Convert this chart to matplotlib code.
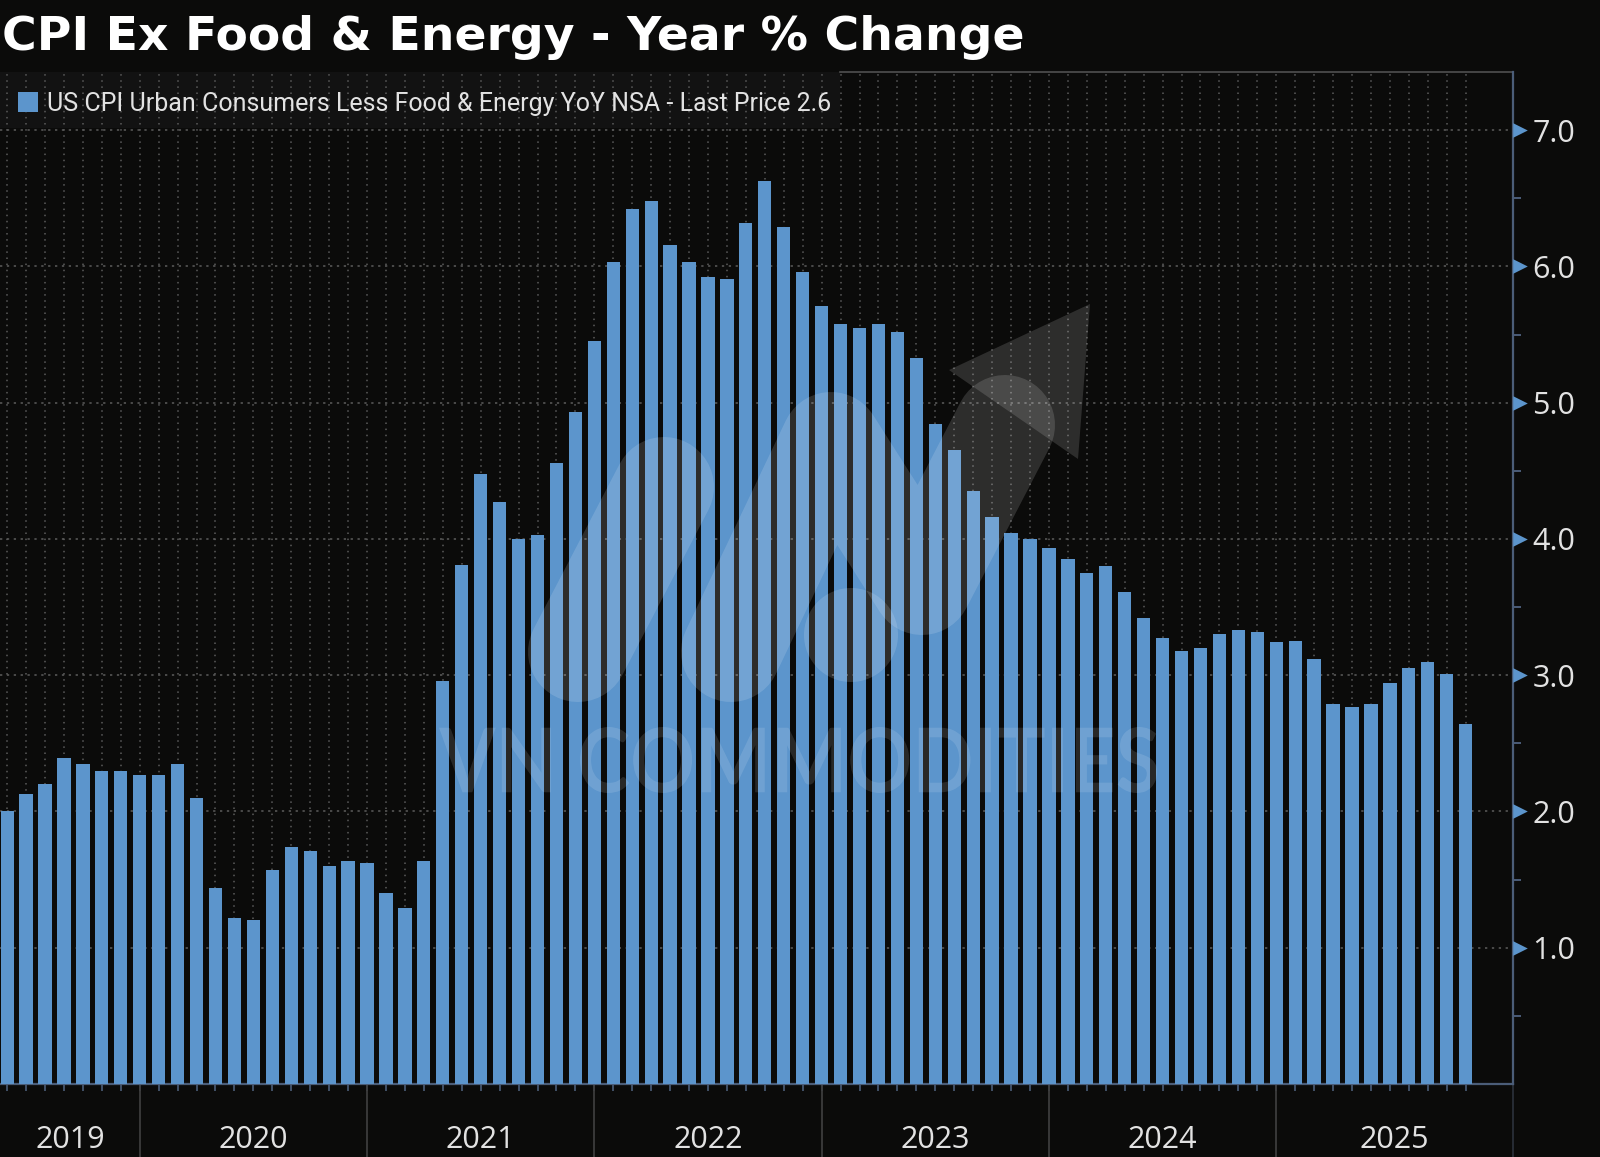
import numpy as np
import pandas as pd
import matplotlib
matplotlib.use("Agg")
import matplotlib.pyplot as plt
from matplotlib.lines import Line2D
from matplotlib.patches import Polygon, Circle, PathPatch, Rectangle
from matplotlib.textpath import TextPath
from matplotlib.font_manager import FontProperties
from matplotlib.transforms import Affine2D, IdentityTransform, blended_transform_factory

# --- Data ---
title = "CPI Ex Food & Energy - Year % Change"
series_name = "US CPI Urban Consumers Less Food & Energy YoY NSA - Last Price 2.6"
watermark = "VN COMMODITIES"

months = pd.date_range("2019-05-31", periods=78, freq="ME")
values = [
    2.00, 2.13, 2.20, 2.39, 2.35, 2.30, 2.30, 2.27,              # 2019 May-Dec
    2.27, 2.35, 2.10, 1.44, 1.22, 1.20, 1.57, 1.74, 1.71, 1.60, 1.64, 1.62,  # 2020
    1.40, 1.29, 1.64, 2.96, 3.81, 4.48, 4.27, 4.00, 4.03, 4.56, 4.93, 5.45,  # 2021
    6.03, 6.42, 6.48, 6.16, 6.03, 5.92, 5.91, 6.32, 6.63, 6.29, 5.96, 5.71,  # 2022
    5.58, 5.55, 5.58, 5.52, 5.33, 4.84, 4.65, 4.35, 4.16, 4.04, 4.00, 3.93,  # 2023
    3.85, 3.75, 3.80, 3.61, 3.42, 3.27, 3.18, 3.20, 3.30, 3.33, 3.32, 3.24,  # 2024
    3.25, 3.12, 2.79, 2.77, 2.79, 2.94, 3.05, 3.10, 3.01, 2.64,              # 2025
]
y_ticks = [1.0, 2.0, 3.0, 4.0, 5.0, 6.0, 7.0]
y_minor = [0.5, 1.5, 2.5, 3.5, 4.5, 5.5, 6.5]

BG = "#0b0b0a"
BAR = "#5c95cc"
AXIS = "#4b5d78"
GRID = "#5c5c5c"
TEXT = "#e2e2e2"

W, H = 1600, 1157
AX_L, AX_R, AX_T, AX_B = 0, 1513, 71.5, 1084   # axes box in image pixels

fig = plt.figure(figsize=(W / 100, H / 100), dpi=100, facecolor=BG)
ax = fig.add_axes([AX_L / W, (H - AX_B) / H, (AX_R - AX_L) / W, (AX_B - AX_T) / H])
ax.set_facecolor(BG)

x = np.arange(len(values))
ax.bar(x, values, width=0.7, color=BAR, zorder=3)
ax.set_xlim(-0.377, 79.5)
ax.set_ylim(0, 7.43)

# dotted grid
for xi in x:
    ax.axvline(xi, color=GRID, lw=1.1, ls=(0, (1, 3)), zorder=1)
for yv in y_ticks:
    ax.axhline(yv, color=GRID, lw=1.1, ls=(0, (1.5, 3)), zorder=1)

# spines
for s in ["left", "top"]:
    ax.spines[s].set_visible(False)
for s in ["right", "bottom"]:
    ax.spines[s].set_color(AXIS)
    ax.spines[s].set_linewidth(1.6)
ax.plot([840 / AX_R, 1], [1, 1], transform=ax.transAxes, color="#505050",
        lw=1.2, clip_on=False)

# right y axis
ax.yaxis.tick_right()
ax.set_yticks(y_ticks)
ax.set_yticklabels([f"{v:.1f}" for v in y_ticks], fontfamily="Open Sans")
ax.set_yticks(y_minor, minor=True)
ax.tick_params(axis="y", which="major", length=0, pad=14, labelsize=22,
               labelcolor=TEXT)
ax.tick_params(axis="y", which="minor", length=6, width=1.4, color=AXIS,
               direction="out")
ytr = blended_transform_factory(ax.transAxes, ax.transData)
ax.scatter([1 + 7 / AX_R] * len(y_ticks), y_ticks, transform=ytr, marker=">",
           s=110, color=BAR, clip_on=False, zorder=5, linewidths=0)

# bottom axis: monthly ticks, year separators, year labels
ax.set_xticks(x)
ax.tick_params(axis="x", length=5, width=1.2, color=AXIS, labelbottom=False)
xtr = blended_transform_factory(ax.transData, ax.transAxes)
dec_idx = [i for i, m in enumerate(months) if m.month == 12]
fig_bottom = -(H - AX_B) / (AX_B - AX_T)
for i in dec_idx:
    ax.plot([i, i], [0, fig_bottom], transform=xtr, color="#3c3c3c", lw=1.3,
            clip_on=False)
ax.plot([1, 1], [0, fig_bottom], transform=ax.transAxes, color="#2a2f38",
        lw=1.3, clip_on=False)

lo, hi = ax.get_xlim()
bounds = [lo] + dec_idx + [hi]
years = sorted(set(months.year))
label_y = -(1140 - AX_B) / (AX_B - AX_T)
for yr, a, b in zip(years, bounds[:-1], bounds[1:]):
    ax.text((a + b) / 2, label_y, str(yr), transform=xtr, ha="center",
            va="center", fontsize=22, color=TEXT, fontfamily="Open Sans")

# legend box
def axc(px, py):
    return px / AX_R, (AX_B - py) / (AX_B - AX_T)

bx, by = axc(0, 128)
ax.add_patch(Rectangle((bx, by), 840 / AX_R, (128 - AX_T) / (AX_B - AX_T),
                       transform=ax.transAxes, facecolor="#121212",
                       edgecolor="none", zorder=0.5))
sx, sy = axc(18, 112)
ax.add_patch(Rectangle((sx, sy), 20 / AX_R, 20 / (AX_B - AX_T),
                       transform=ax.transAxes, facecolor=BAR, edgecolor="none",
                       zorder=6, clip_on=False))
tx, ty = axc(47, 111)
ax.text(tx, ty, series_name, transform=ax.transAxes, fontsize=18,
        color=TEXT, va="baseline", ha="left", fontfamily="Roboto", zorder=6)

# title
fig.text(2 / W, 1 - 50 / H, title, fontsize=34, fontweight="bold",
         color="white", fontfamily="DejaVu Sans", va="baseline", ha="left")

# watermark (logo + text), image pixel coords -> display
def disp(pts):
    return [p[0] for p in pts], [H - p[1] for p in pts]

wm = dict(color="white", alpha=0.14)
xs, ys = disp([(578, 652), (664, 487)])
fig.add_artist(Line2D(xs, ys, transform=IdentityTransform(), lw=72,
                      solid_capstyle="round", **wm))
xs, ys = disp([(731, 652), (831, 442), (922, 585), (1005, 425)])
fig.add_artist(Line2D(xs, ys, transform=IdentityTransform(), lw=72,
                      solid_capstyle="round", solid_joinstyle="round", **wm))
fig.add_artist(Circle((851, H - 635), 47, transform=IdentityTransform(),
                      edgecolor="none", facecolor="white", alpha=0.14))
hx, hy = disp([(1090, 304), (949, 370), (1078, 459)])
fig.add_artist(Polygon(list(zip(hx, hy)), closed=True,
                       transform=IdentityTransform(), edgecolor="none",
                       facecolor="white", alpha=0.14))

tp = TextPath((0, 0), watermark, size=1,
              prop=FontProperties(family="Lato", weight="bold"))
bb = tp.get_extents()
x0, x1, y0, y1 = 439, 1157, 727, 793
tr = (Affine2D().translate(-bb.x0, -bb.y0)
      .scale((x1 - x0) / bb.width, (y1 - y0) / bb.height)
      .translate(x0, H - y1))
fig.add_artist(PathPatch(tr.transform_path(tp), transform=IdentityTransform(),
                         facecolor="white", edgecolor="none", alpha=0.12))

fig.savefig("out.png", dpi=100, facecolor=BG)
